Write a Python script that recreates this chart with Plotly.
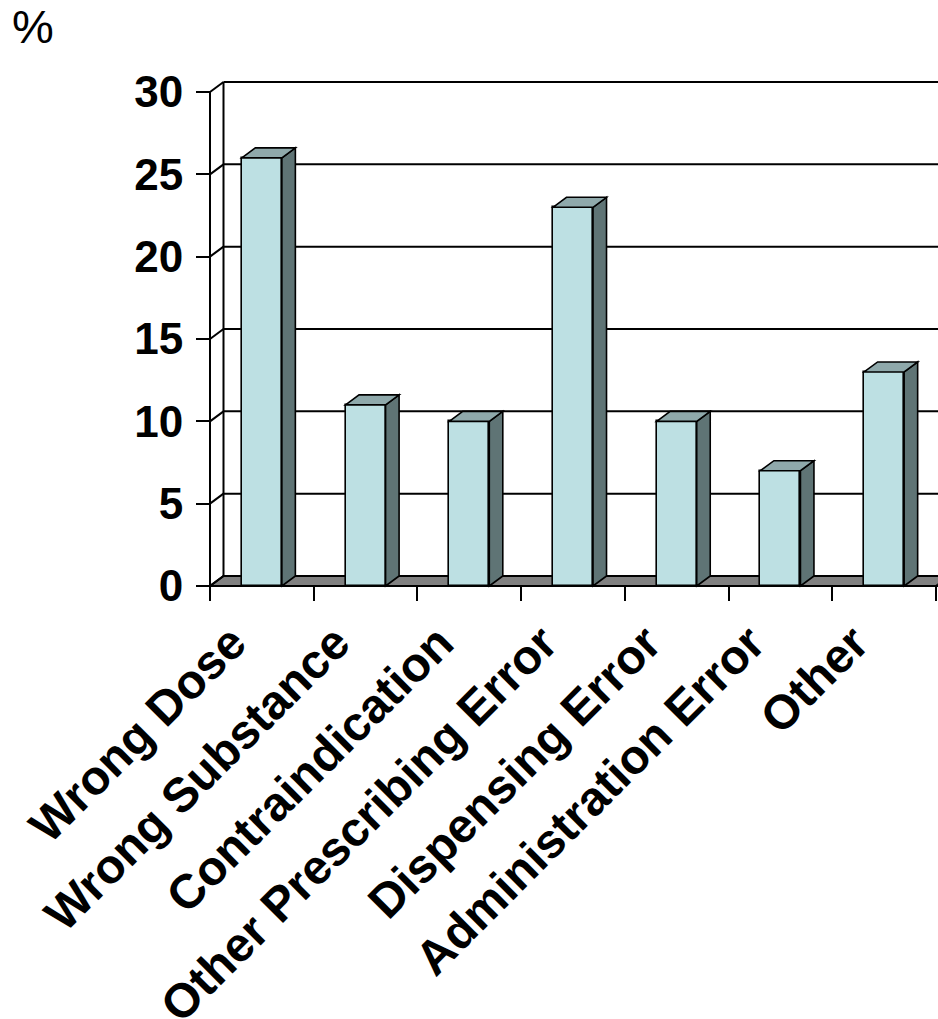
import plotly.graph_objects as go

# ---------------- data ----------------
categories = ["Wrong Dose", "Wrong Substance", "Contraindication",
              "Other Prescribing Error", "Dispensing Error",
              "Administration Error", "Other"]
values = [26, 11, 10, 23, 10, 7, 13]
y_ticks = [0, 5, 10, 15, 20, 25, 30]
y_unit_label = "%"

# ---------------- geometry / style ----------------
W, H = 938, 1019
X0_PX, X1_PX = 210, 936      # front plane: left / right category boundaries
Y0_PX, YTOP_PX = 586, 92     # front plane: value 0 / top tick
DEPTH_X_PX, DEPTH_Y_PX = 13.5, 10
BAR_FRAC = 0.386

FRONT = "#BDE0E3"
TOP = "#8FA9AB"
SIDE = "#5F7475"
FLOOR = "#808080"
FONT = "Arial, 'Liberation Sans', sans-serif"

n = len(categories)
ymax = y_ticks[-1]
ppu_x = (X1_PX - X0_PX) / n
ppu_y = (Y0_PX - YTOP_PX) / ymax
xr = [-0.5 - X0_PX / ppu_x, n - 0.5 + (W - X1_PX) / ppu_x]
yr = [-(H - Y0_PX) / ppu_y, ymax + YTOP_PX / ppu_y]
dx = DEPTH_X_PX / ppu_x
dy = DEPTH_Y_PX / ppu_y
left = -0.5
right = n - 0.5

fig = go.Figure()
fig.add_trace(go.Bar(
    x=categories, y=values, width=BAR_FRAC,
    marker=dict(color=FRONT, line=dict(color="black", width=1.6)),
    hoverinfo="x+y", showlegend=False,
))

shapes = []
line_k = dict(color="black", width=2)
# floor
shapes.append(dict(type="path", layer="below", xref="x", yref="y",
                   path=f"M{left},0 L{right},0 L{right+dx},{dy} L{left+dx},{dy} Z",
                   fillcolor=FLOOR, line=line_k))
# extend floor to the right edge
shapes.append(dict(type="path", layer="below", xref="x", yref="y",
                   path=f"M{right},0 L{right+3},0 L{right+3},{dy} L{right+dx},{dy} Z",
                   fillcolor=FLOOR, line=dict(width=0)))
shapes.append(dict(type="line", layer="below", xref="x", yref="y",
                   x0=right, x1=right + 3, y0=0, y1=0, line=line_k))
# back wall left edge
shapes.append(dict(type="line", layer="below", xref="x", yref="y",
                   x0=left + dx, x1=left + dx, y0=dy, y1=ymax + dy, line=line_k))
# front axis line
shapes.append(dict(type="line", layer="below", xref="x", yref="y",
                   x0=left, x1=left, y0=0, y1=ymax, line=line_k))
for v in y_ticks:
    # gridline on back wall
    shapes.append(dict(type="line", layer="below", xref="x", yref="y",
                       x0=left + dx, x1=right + 3, y0=v + dy, y1=v + dy, line=line_k))
    # side-wall connector
    shapes.append(dict(type="line", layer="below", xref="x", yref="y",
                       x0=left, x1=left + dx, y0=v, y1=v + dy, line=line_k))

edge = dict(color="black", width=1.6)
for i, v in enumerate(values):
    a = i - BAR_FRAC / 2
    b = i + BAR_FRAC / 2
    shapes.append(dict(type="path", layer="above", xref="x", yref="y",
                       path=f"M{b},0 L{b+dx},{dy} L{b+dx},{v+dy} L{b},{v} Z",
                       fillcolor=SIDE, line=edge))
    shapes.append(dict(type="path", layer="above", xref="x", yref="y",
                       path=f"M{a},{v} L{a+dx},{v+dy} L{b+dx},{v+dy} L{b},{v} Z",
                       fillcolor=TOP, line=edge))

fig.update_layout(
    width=W, height=H,
    margin=dict(l=0, r=0, t=0, b=0, pad=0, autoexpand=False),
    paper_bgcolor="white", plot_bgcolor="white",
    shapes=shapes,
    font=dict(family=FONT, color="black"),
    xaxis=dict(
        type="category", range=xr, domain=[0, 1], automargin=False,
        anchor="free", position=(H - Y0_PX) / H,
        tickmode="array", tickvals=categories, ticktext=categories,
        tickson="boundaries", ticks="outside", ticklen=14, tickwidth=2,
        tickcolor="black", tickangle=-45,
        ticklabelstandoff=18, ticklabelshift=-30,
        tickfont=dict(size=48, weight=700, family=FONT, color="black"),
        showgrid=False, zeroline=False, showline=False, fixedrange=True,
    ),
    yaxis=dict(
        range=yr, domain=[0, 1], automargin=False,
        anchor="free", position=X0_PX / W,
        tickmode="array", tickvals=y_ticks,
        ticks="outside", ticklen=14, tickwidth=2, tickcolor="black",
        ticklabelstandoff=4,
        tickfont=dict(size=44, weight=700, family=FONT, color="black"),
        showgrid=False, zeroline=False, showline=False, fixedrange=True,
    ),
    annotations=[dict(text=y_unit_label, xref="paper", yref="paper",
                      x=33 / W, y=1 - 27 / H, xanchor="center", yanchor="middle",
                      showarrow=False, font=dict(size=47, family=FONT, color="black"))],
    bargap=0,
)

fig.write_html("out.html")
